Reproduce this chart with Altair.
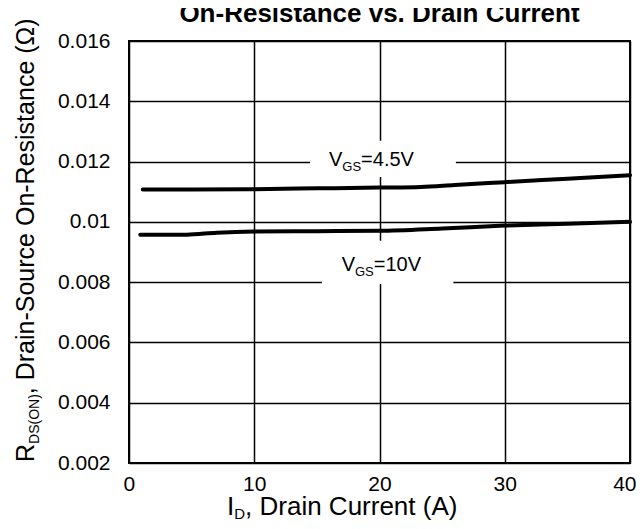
import altair as alt
import pandas as pd

# ---- data ----
current_45 = [1.1, 5, 10, 15, 20, 23.3, 26, 30, 35, 40]
rds_45 = [0.01107, 0.01107, 0.011085, 0.011111, 0.011138, 0.01116, 0.011224, 0.011317, 0.011433, 0.011549]
current_10 = [0.9, 4.6, 7, 10, 15, 20, 25, 30, 35, 40]
rds_10 = [0.009569, 0.009575, 0.00964, 0.009679, 0.00969, 0.009702, 0.00978, 0.009877, 0.00994, 0.01]
x_ticks = [0, 10, 20, 30, 40]
y_ticks = [0.002, 0.004, 0.006, 0.008, 0.01, 0.012, 0.014, 0.016]

# label background boxes (data coordinates)
box_series = ["4.5V", "10V"]
box_x1 = [14.45, 15.4]
box_x2 = [26.1, 25.9]
box_y1 = [0.011492, 0.00794]
box_y2 = [0.012687, 0.00937]

FONT = "Liberation Sans"
W, H = 501, 422

lines_df = pd.concat([
    pd.DataFrame({"I": current_45, "R": rds_45, "s": "4.5V"}),
    pd.DataFrame({"I": current_10, "R": rds_10, "s": "10V"}),
])
boxes_df = pd.DataFrame({"s": box_series, "x1": box_x1, "x2": box_x2, "y1": box_y1, "y2": box_y2})

xscale = alt.Scale(domain=[0, 40], nice=False, zero=False)
yscale = alt.Scale(domain=[0.002, 0.016], nice=False, zero=False)

xaxis = alt.Axis(values=x_ticks, title=None, grid=True, gridColor="black", gridWidth=1.5,
                 gridOpacity=1, domain=False, ticks=False, tickSize=0, labelFontSize=21,
                 labelFont=FONT, labelColor="black", labelPadding=10,
                 labelFlush=True, labelFlushOffset=6)
yaxis = alt.Axis(values=y_ticks, title=None, grid=True, gridColor="black", gridWidth=1.5,
                 gridOpacity=1, domain=False, ticks=False, tickSize=0, labelFontSize=21,
                 labelFont=FONT, labelColor="black", labelPadding=19, format="~g")

boxes = alt.Chart(boxes_df).mark_rect(color="white", opacity=1).encode(
    x=alt.X("x1:Q", scale=xscale, axis=xaxis),
    x2="x2:Q",
    y=alt.Y("y1:Q", scale=yscale, axis=yaxis),
    y2="y2:Q",
)

lines = alt.Chart(lines_df).mark_line(color="black", strokeWidth=4, interpolate="monotone",
                                      strokeCap="round").encode(
    x=alt.X("I:Q", scale=xscale),
    y=alt.Y("R:Q", scale=yscale),
    detail="s:N",
)

one = pd.DataFrame({"a": [0]})


def txt(text, x, y, size, angle=0, weight="normal", align="left"):
    return alt.Chart(one).mark_text(
        text=text, font=FONT, fontSize=size, fontWeight=weight, align=align,
        baseline="alphabetic", angle=angle, color="black"
    ).encode(x=alt.value(x), y=alt.value(y))


# series labels with subscripts (pixel positions within the plot)
texts = [
    txt("V", 200, 125, 20), txt("GS", 213.3, 129.5, 13), txt("=4.5V", 232.1, 125, 20),
    txt("V", 212.7, 230, 20), txt("GS", 226, 234.5, 13), txt("=10V", 244.8, 230, 20),
]

# chart title (partly cut at top as in the reference)
texts.append(txt("On-Resistance vs. Drain Current", W / 2, -19, 26, weight="bold", align="center"))

# x-axis title with subscript
xs = 98
texts += [
    txt("I", xs, 474, 26),
    txt("D", xs + 0.278 * 26, 478, 15),
    txt(", Drain Current (A)", xs + 0.278 * 26 + 0.722 * 15, 474, 26),
]

# y-axis title, rotated, with subscript
yb = -95
ystart = 421
texts += [
    txt("R", yb, ystart, 25, angle=270),
    txt("DS(ON)", yb + 5, ystart - 0.722 * 25, 14, angle=270),
    txt(", Drain-Source On-Resistance (\u03a9)", yb, ystart - 0.722 * 25 - 3.555 * 14, 25, angle=270),
]

chart = alt.layer(boxes, lines, *texts).properties(
    width=W, height=H,
    padding={"left": 121, "top": 33, "right": 6, "bottom": 58},
    autosize=alt.AutoSizeParams(type="none"),
).configure_view(stroke="black", strokeWidth=2)

chart.save("out.html", embed_options={"renderer": "svg", "actions": False})
